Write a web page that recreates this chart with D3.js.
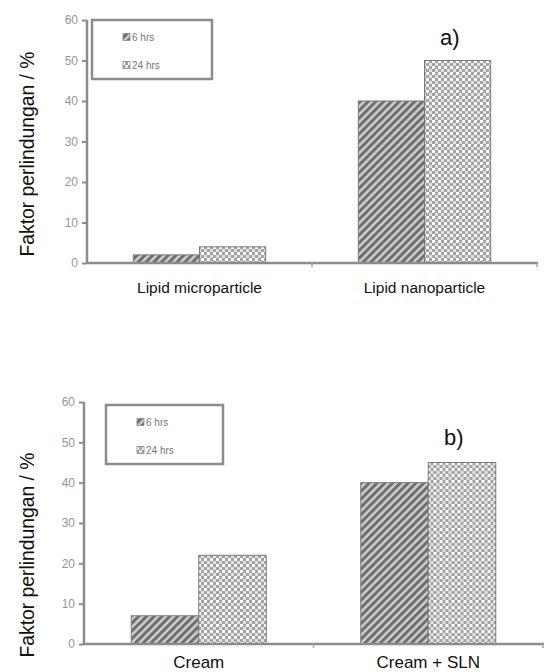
<!DOCTYPE html>
<html>
<head>
<meta charset="utf-8">
<script src="https://cdn.jsdelivr.net/npm/d3@7"></script>
<style>
  body { margin: 0; background: #fff; }
  svg { display: block; font-family: "Liberation Sans", Arial, sans-serif; }
  .tick text { fill: #969696; font-size: 12px; }
  .tick line, .domain { stroke: #8c8c8c; }
</style>
</head>
<body>
<div id="chart"></div>
<script>
// data
var seriesNames = ["6 hrs", "24 hrs"];
var yTicks = [0, 10, 20, 30, 40, 50, 60];

var categoriesA = ["Lipid microparticle", "Lipid nanoparticle"];
var hrs6A = [2, 40];
var hrs24A = [4, 50];

var categoriesB = ["Cream", "Cream + SLN"];
var hrs6B = [7, 40];
var hrs24B = [22, 45];

var svg = d3.select("#chart").append("svg")
    .attr("width", 547)
    .attr("height", 672);

// patterns for the two series
var defs = svg.append("defs");
var stripe = defs.append("pattern")
    .attr("id", "pat6")
    .attr("patternUnits", "userSpaceOnUse")
    .attr("width", 5.5).attr("height", 5.5)
    .attr("patternTransform", "rotate(45)");
stripe.append("rect").attr("width", 5.5).attr("height", 5.5).attr("fill", "#cfcfcf");
stripe.append("rect").attr("width", 3).attr("height", 5.5).attr("fill", "#6e6e6e");

var check = defs.append("pattern")
    .attr("id", "pat24")
    .attr("patternUnits", "userSpaceOnUse")
    .attr("width", 6).attr("height", 6);
check.append("rect").attr("width", 6).attr("height", 6).attr("fill", "#a2a2a2");
check.append("rect").attr("width", 3).attr("height", 3).attr("fill", "#ffffff");
check.append("rect").attr("x", 3).attr("y", 3).attr("width", 3).attr("height", 3).attr("fill", "#e2e2e2");

var fills = ["url(#pat6)", "url(#pat24)"];

function panel(opts) {
    var g = svg.append("g");

    var y = d3.scaleLinear().domain([0, 60]).range([opts.y0, opts.y60]);

    var x = d3.scaleBand()
        .domain(opts.categories)
        .range([opts.left, opts.right])
        .padding(0);

    var xs = d3.scaleBand()
        .domain(seriesNames)
        .range([0, x.bandwidth()])
        .paddingInner(0)
        .paddingOuter(0.7);

    // y axis
    g.append("g")
        .attr("transform", "translate(" + opts.left + ",0)")
        .call(d3.axisLeft(y).tickValues(yTicks).tickSize(5).tickPadding(4))
        .call(function (a) { a.select(".domain").attr("stroke-width", 2.5).attr("d", "M0," + (opts.y0) + "V" + (opts.y60)); })
        .selectAll("line").attr("stroke-width", 2);

    // bars
    var rows = opts.categories.map(function (c, i) {
        return { cat: c, vals: [opts.s6[i], opts.s24[i]] };
    });
    g.selectAll(".grp")
        .data(rows)
        .enter().append("g")
        .attr("transform", function (d) { return "translate(" + x(d.cat) + ",0)"; })
        .selectAll("rect")
        .data(function (d) { return d.vals.map(function (v, j) { return { s: seriesNames[j], v: v, j: j }; }); })
        .enter().append("rect")
        .attr("x", function (d) { return xs(d.s); })
        .attr("y", function (d) { return y(d.v); })
        .attr("width", xs.bandwidth())
        .attr("height", function (d) { return y(0) - y(d.v); })
        .attr("fill", function (d) { return fills[d.j]; })
        .attr("stroke", "#7a7a7a")
        .attr("stroke-width", 1);

    // x axis
    g.append("line")
        .attr("x1", opts.left).attr("x2", opts.right + 1)
        .attr("y1", y(0)).attr("y2", y(0))
        .attr("stroke", "#8c8c8c").attr("stroke-width", 2.5);
    g.selectAll(".xt")
        .data(opts.categories)
        .enter().append("line")
        .attr("x1", function (d) { return x(d) + x.bandwidth(); })
        .attr("x2", function (d) { return x(d) + x.bandwidth(); })
        .attr("y1", y(0)).attr("y2", y(0) + 4)
        .attr("stroke", "#aaa").attr("stroke-width", 1.5);
    g.selectAll(".xl")
        .data(opts.categories)
        .enter().append("text")
        .attr("x", function (d) { return x(d) + x.bandwidth() / 2; })
        .attr("y", opts.labelY)
        .attr("text-anchor", "middle")
        .attr("font-size", opts.labelSize)
        .attr("fill", "#111")
        .text(function (d) { return d; });

    // y label
    g.append("text")
        .attr("transform", "translate(" + 34 + "," + opts.yLabelMid + ") rotate(-90)")
        .attr("text-anchor", "middle")
        .attr("font-size", 20)
        .attr("textLength", 205)
        .attr("lengthAdjust", "spacingAndGlyphs")
        .attr("fill", "#111")
        .text("Faktor perlindungan / %");

    // legend
    var lg = g.append("g").attr("transform", "translate(" + opts.legend[0] + "," + opts.legend[1] + ")");
    lg.append("rect")
        .attr("width", opts.legend[2]).attr("height", opts.legend[3])
        .attr("fill", "#fff").attr("stroke", "#8c8c8c").attr("stroke-width", 2.5);
    seriesNames.forEach(function (s, j) {
        lg.append("rect")
            .attr("x", 31).attr("y", 13.5 + j * 28)
            .attr("width", 7).attr("height", 7)
            .attr("fill", fills[j]).attr("stroke", "#888").attr("stroke-width", 0.8);
        lg.append("text")
            .attr("x", 40).attr("y", 21 + j * 28)
            .attr("font-size", 10)
            .attr("fill", "#777")
            .text(s);
    });

    // panel tag
    g.append("text")
        .attr("x", opts.tag[0]).attr("y", opts.tag[1])
        .attr("font-size", 22)
        .attr("fill", "#111")
        .text(opts.tagText);
}

panel({
    categories: categoriesA, s6: hrs6A, s24: hrs24A,
    left: 87, right: 537, y0: 263, y60: 20,
    labelY: 293, labelSize: 15.5, yLabelMid: 154,
    legend: [92, 20, 120, 59],
    tag: [440, 45], tagText: "a)"
});

panel({
    categories: categoriesB, s6: hrs6B, s24: hrs24B,
    left: 84, right: 543, y0: 644, y60: 402,
    labelY: 668, labelSize: 17, yLabelMid: 555,
    legend: [106, 405, 117, 59],
    tag: [444, 445], tagText: "b)"
});
</script>
</body>
</html>
